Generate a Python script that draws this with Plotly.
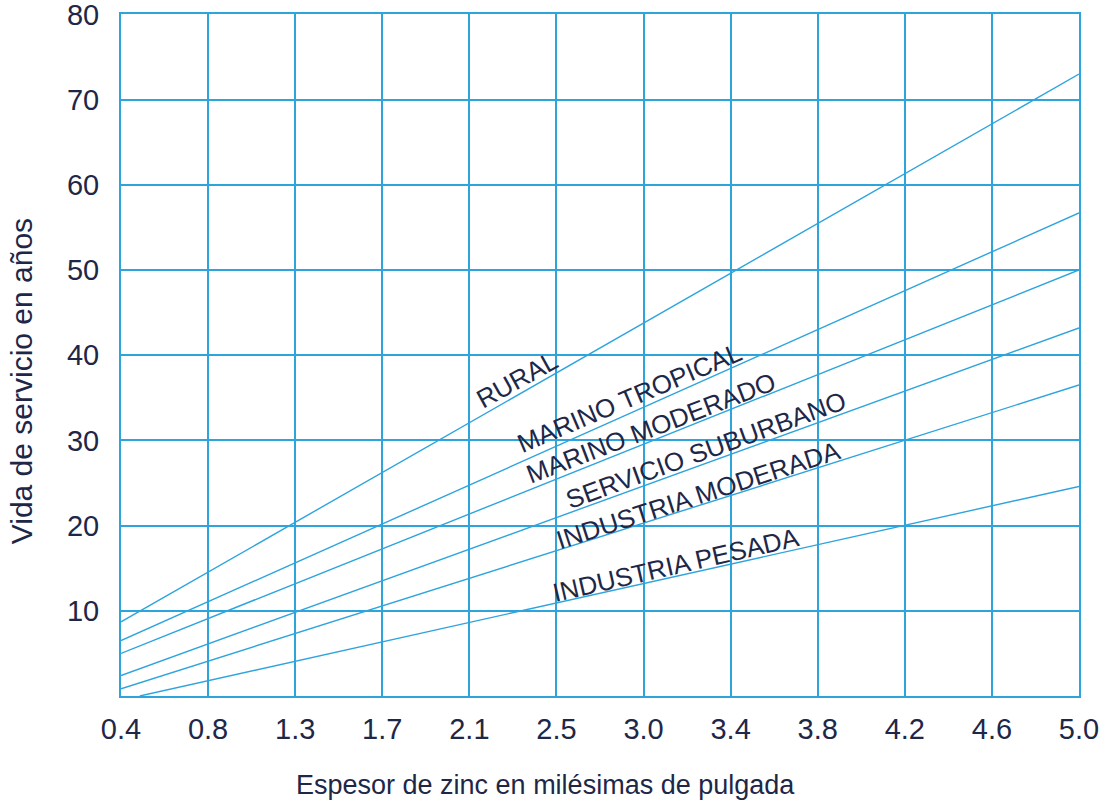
import numpy as np
import plotly.graph_objects as go

# ---- data ----
x_tick_labels = ["0.4", "0.8", "1.3", "1.7", "2.1", "2.5", "3.0", "3.4", "3.8", "4.2", "4.6", "5.0"]
y_tick_vals = [10, 20, 30, 40, 50, 60, 70, 80]

series_names = ["RURAL", "MARINO TROPICAL", "MARINO MODERADO",
                "SERVICIO SUBURBANO", "INDUSTRIA MODERADA", "INDUSTRIA PESADA"]
rural_x = [0.4, 5.0]
rural_y = [8.7, 73.0]
marino_tropical_x = [0.4, 5.0]
marino_tropical_y = [6.5, 56.7]
marino_moderado_x = [0.4, 5.0]
marino_moderado_y = [5.0, 50.0]
servicio_suburbano_x = [0.4, 5.0]
servicio_suburbano_y = [2.4, 43.2]
industria_moderada_x = [0.4, 5.0]
industria_moderada_y = [0.85, 36.5]
industria_pesada_x = [0.49, 5.0]
industria_pesada_y = [0.0, 24.6]

# label anchor points (data coords) and angles
label_x = [2.30, 2.84, 2.945, 3.21, 3.175, 3.065]
label_y = [37.1, 35.0, 31.4, 28.9, 23.6, 15.4]
label_angle = [-29, -23, -21, -20, -18, -13]

BLUE = "#2ea4dd"
NAVY = "#1e2747"
FONT = "Arial, Liberation Sans, sans-serif"

xs = [rural_x, marino_tropical_x, marino_moderado_x, servicio_suburbano_x,
      industria_moderada_x, industria_pesada_x]
ys = [rural_y, marino_tropical_y, marino_moderado_y, servicio_suburbano_y,
      industria_moderada_y, industria_pesada_y]

fig = go.Figure()
for name, x, y in zip(series_names, xs, ys):
    fig.add_trace(go.Scatter(x=x, y=y, mode="lines", name=name,
                             line=dict(color=BLUE, width=1.4), showlegend=False))

for name, lx, ly, ang in zip(series_names, label_x, label_y, label_angle):
    fig.add_annotation(x=lx, y=ly, xref="x", yref="y", text=name, showarrow=False,
                       textangle=ang, font=dict(family=FONT, size=26, color=NAVY))

x_lo, x_hi = 0.4, 5.0
tickvals = list(np.linspace(x_lo, x_hi, len(x_tick_labels)))

fig.update_xaxes(range=[x_lo, x_hi], tickvals=tickvals, ticktext=x_tick_labels,
                 showgrid=True, gridcolor=BLUE, gridwidth=1.6,
                 showline=True, linecolor=BLUE, linewidth=2, mirror=True,
                 ticks="outside", ticklen=6, tickcolor="rgba(0,0,0,0)",
                 tickfont=dict(family=FONT, size=29, color=NAVY),
                 zeroline=False, automargin=False)
fig.update_yaxes(range=[0, 80.05], tickvals=y_tick_vals,
                 showgrid=True, gridcolor=BLUE, gridwidth=1.6,
                 showline=True, linecolor=BLUE, linewidth=2, mirror=True,
                 ticks="outside", ticklen=14, tickcolor="rgba(0,0,0,0)",
                 tickfont=dict(family=FONT, size=29, color=NAVY),
                 ticklabeloverflow="allow",
                 zeroline=False, automargin=False)

fig.add_annotation(x=0.4436, y=-0.13, xref="paper", yref="paper",
                   text="Espesor de zinc en milésimas de pulgada", showarrow=False,
                   xanchor="center", yanchor="middle",
                   font=dict(family=FONT, size=27, color=NAVY))
fig.add_annotation(x=-0.103, y=0.462, xref="paper", yref="paper",
                   text="Vida de servicio en años", showarrow=False, textangle=-90,
                   xanchor="center", yanchor="middle",
                   font=dict(family=FONT, size=30, color=NAVY))

fig.update_layout(width=1101, height=804,
                  margin=dict(l=121, r=22, t=14, b=108, autoexpand=False),
                  plot_bgcolor="white", paper_bgcolor="white")

fig.write_html("out.html", config={"displayModeBar": False},
               post_script="document.body.style.margin='0px';")
